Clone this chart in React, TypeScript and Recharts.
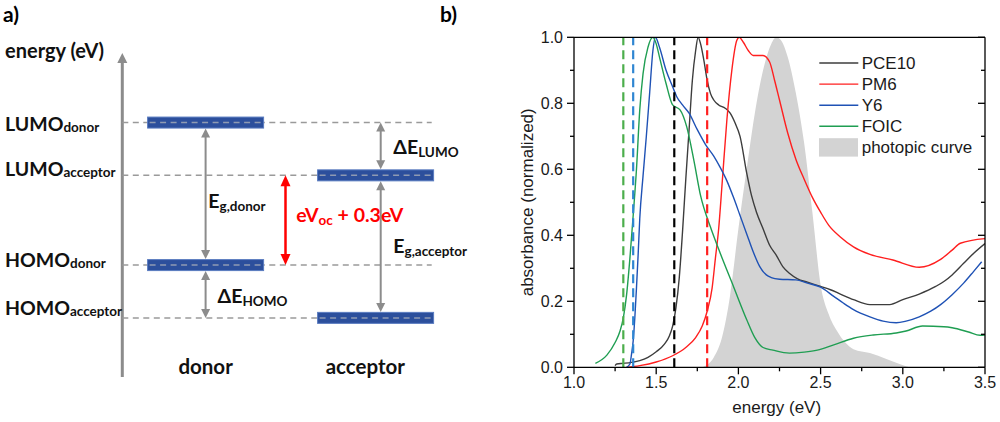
import {
  Area,
  ComposedChart,
  Legend,
  Line,
  ReferenceLine,
  Scatter,
  XAxis,
  YAxis,
} from 'recharts'

const FONT_A = 'Lato, "Open Sans", sans-serif'
const FONT_B = '"Liberation Sans", Arial, sans-serif'

// ---------- a) energy level diagram ----------
const LEVEL_NAMES = ['LUMO', 'LUMO', 'HOMO', 'HOMO']
const LEVEL_OWNERS = ['donor', 'acceptor', 'donor', 'acceptor']
const LEVEL_ENERGIES = [-3.59, -4.09, -4.94, -5.44] // eV, schematic
const COLUMNS = ['donor', 'acceptor'] // column x = 1, 2

// arrows: column position, start level, end level (indices into the level arrays)
const ARROW_X = [1, 1, 2.03, 2.03, 1.47]
const ARROW_FROM = [0, 2, 0, 1, 1]
const ARROW_TO = [2, 3, 1, 3, 2]
const ARROW_TEXT = ['E', 'ΔE', 'ΔE', 'E', 'eV']
const ARROW_SUB = ['g,donor', 'HOMO', 'LUMO', 'g,acceptor', 'oc']
const ARROW_TAIL = ['', '', '', '', ' + 0.3eV']

// ---------- b) absorbance spectra (energy eV, normalized absorbance) ----------
const PCE10: [number, number][] = [
  [1.25, 0.005], [1.26, 0.01], [1.3, 0.012], [1.35, 0.015], [1.4, 0.02], [1.45, 0.03],
  [1.5, 0.047], [1.55, 0.07], [1.58, 0.095], [1.6, 0.125], [1.62, 0.18], [1.64, 0.27],
  [1.66, 0.41], [1.68, 0.57], [1.7, 0.72], [1.72, 0.87], [1.74, 0.96], [1.755, 1.0],
  [1.77, 0.98], [1.79, 0.93], [1.81, 0.87], [1.83, 0.83], [1.85, 0.81], [1.88, 0.795],
  [1.92, 0.785], [1.95, 0.77], [1.98, 0.74], [2.01, 0.7], [2.05, 0.59], [2.08, 0.52],
  [2.11, 0.47], [2.15, 0.42], [2.19, 0.37], [2.23, 0.34], [2.27, 0.305], [2.31, 0.285],
  [2.36, 0.268], [2.42, 0.258], [2.5, 0.245], [2.56, 0.235], [2.62, 0.222], [2.7, 0.205],
  [2.8, 0.19], [2.92, 0.19], [3.0, 0.205], [3.1, 0.222], [3.2, 0.245], [3.25, 0.26],
  [3.3, 0.28], [3.37, 0.315], [3.43, 0.345], [3.5, 0.375],
]
const PM6: [number, number][] = [
  [1.32, 0.0], [1.4, 0.005], [1.5, 0.016], [1.6, 0.035], [1.68, 0.06], [1.74, 0.09],
  [1.78, 0.125], [1.81, 0.17], [1.84, 0.24], [1.86, 0.33], [1.88, 0.42], [1.9, 0.55],
  [1.93, 0.75], [1.96, 0.9], [1.99, 0.99], [2.005, 1.0], [2.03, 0.985], [2.06, 0.96],
  [2.09, 0.945], [2.15, 0.945], [2.19, 0.925], [2.22, 0.87], [2.25, 0.81], [2.3, 0.71],
  [2.35, 0.63], [2.4, 0.57], [2.45, 0.515], [2.5, 0.47], [2.55, 0.43], [2.62, 0.395],
  [2.7, 0.365], [2.8, 0.342], [2.94, 0.325], [3.1, 0.303], [3.23, 0.327], [3.3, 0.355],
  [3.35, 0.376], [3.5, 0.39],
]
const Y6: [number, number][] = [
  [1.32, 0.0], [1.34, 0.01], [1.35, 0.04], [1.36, 0.08], [1.37, 0.15], [1.38, 0.24],
  [1.39, 0.34], [1.4, 0.45], [1.42, 0.58], [1.44, 0.7], [1.46, 0.83], [1.48, 0.96],
  [1.495, 1.0], [1.52, 0.97], [1.56, 0.9], [1.6, 0.85], [1.625, 0.82], [1.66, 0.795],
  [1.7, 0.77], [1.75, 0.72], [1.8, 0.675], [1.85, 0.64], [1.89, 0.605], [1.93, 0.565],
  [1.97, 0.515], [2.01, 0.46], [2.05, 0.405], [2.09, 0.35], [2.13, 0.305], [2.17, 0.28],
  [2.2, 0.272], [2.25, 0.267], [2.35, 0.265], [2.42, 0.255], [2.5, 0.243], [2.58, 0.215],
  [2.64, 0.194], [2.7, 0.175], [2.8, 0.153], [2.88, 0.14], [2.96, 0.135], [3.02, 0.14],
  [3.1, 0.153], [3.17, 0.17], [3.23, 0.19], [3.3, 0.22], [3.37, 0.255], [3.43, 0.29],
  [3.48, 0.32],
]
const FOIC: [number, number][] = [
  [1.13, 0.012], [1.2, 0.037], [1.25, 0.075], [1.28, 0.11], [1.3, 0.15], [1.32, 0.22],
  [1.34, 0.33], [1.36, 0.46], [1.38, 0.6], [1.4, 0.78], [1.42, 0.89], [1.45, 0.97],
  [1.48, 1.0], [1.5, 0.98], [1.52, 0.94], [1.56, 0.86], [1.6, 0.795], [1.645, 0.78],
  [1.685, 0.73], [1.73, 0.625], [1.77, 0.52], [1.83, 0.425], [1.89, 0.345], [1.97, 0.245],
  [2.05, 0.145], [2.1, 0.09], [2.15, 0.06], [2.21, 0.052], [2.31, 0.043], [2.4, 0.046],
  [2.48, 0.052], [2.58, 0.068], [2.7, 0.088], [2.82, 0.098], [2.96, 0.104], [3.02, 0.11],
  [3.12, 0.125], [3.25, 0.123], [3.3, 0.12], [3.4, 0.107], [3.47, 0.097], [3.5, 0.098],
]
const PHOTOPIC: [number, number][] = [
  [1.78, 0.0], [1.85, 0.03], [1.9, 0.09], [1.95, 0.22], [2.0, 0.42], [2.05, 0.6],
  [2.1, 0.77], [2.15, 0.9], [2.2, 0.98], [2.23, 1.0], [2.26, 0.99], [2.3, 0.94],
  [2.35, 0.83], [2.4, 0.68], [2.45, 0.47], [2.5, 0.25], [2.55, 0.16], [2.6, 0.11],
  [2.65, 0.075], [2.7, 0.055], [2.8, 0.043], [2.9, 0.025], [2.98, 0.01], [3.04, 0.0],
]

// band-gap markers
const GAP_ENERGIES = [1.3, 1.36, 1.61, 1.81]
const GAP_COLORS = ['#4cae4c', '#2f86d2', '#000000', '#ff2020']

const SERIES_NAMES = ['PCE10', 'PM6', 'Y6', 'FOIC', 'photopic curve']
const SERIES_COLORS = ['#3d3d3d', '#ff1f1f', '#1f52b5', '#1f9e52', '#d3d3d3']

const X_TICKS = [1, 1.25, 1.5, 1.75, 2, 2.25, 2.5, 2.75, 3, 3.25, 3.5]
const Y_TICKS = [0, 0.1, 0.2, 0.3, 0.4, 0.5, 0.6, 0.7, 0.8, 0.9, 1.0]

const toRows = (pts: [number, number][]) => pts.map(([e, a]) => ({ e, a }))

// ---------- panel a pieces ----------
const GRAY = '#8c8c8c'
const RED = '#ff0000'
const BAR_HALF_H = 5.5
const LEVEL_LABEL_DY = [8.1, 0.3, 1.6, -2.9]
const ARROW_LABEL_DX = [2.7, 12, 12.6, 12.6, 10.7]
const ARROW_LABEL_DY = [14, 11.8, 5.3, 6.6, 1.4]
const COLUMN_LABEL_DX = [0, -10.3]

const columnOf = (level: number) => COLUMNS.indexOf(LEVEL_OWNERS[level]) + 1

const barPoints = LEVEL_ENERGIES.map((energy, i) => ({ column: columnOf(i), energy }))

function LevelBar({ cx, cy }: any) {
  return (
    <g>
      <rect x={cx - 58} y={cy - BAR_HALF_H} width={116} height={BAR_HALF_H * 2} fill="#2c4f9c" stroke="#5a7cc0" strokeWidth={1} />
      <line x1={cx - 56} x2={cx + 57} y1={cy} y2={cy} stroke="#8e9ab2" strokeWidth={1.5} strokeDasharray="6 4.5" />
    </g>
  )
}

function LevelTick({ y, payload }: any) {
  const i = LEVEL_ENERGIES.indexOf(payload.value)
  if (i < 0) return null
  return (
    <text x={5} y={y + LEVEL_LABEL_DY[i]} fontFamily={FONT_A} fontWeight={700} fontSize={19.5} fill="#111">
      {LEVEL_NAMES[i]}
      <tspan dy={1.5} fontSize={13.5}>{LEVEL_OWNERS[i]}</tspan>
    </text>
  )
}

function ColumnTick({ x, y, payload }: any) {
  const i = Math.round(payload.value) - 1
  return (
    <text x={x + COLUMN_LABEL_DX[i]} y={y - 2.7} textAnchor="middle" fontFamily={FONT_A} fontWeight={700} fontSize={20.5} fill="#111">
      {COLUMNS[i]}
    </text>
  )
}

function arrowHead(x: number, tip: number, dir: 1 | -1, w: number, l: number, color: string) {
  return <polygon points={`${x},${tip} ${x - w / 2},${tip + dir * l} ${x + w / 2},${tip + dir * l}`} fill={color} />
}

function makeArrow(i: number) {
  const red = ARROW_TAIL[i] !== ''
  const color = red ? RED : GRAY
  const headW = red ? 10 : 9
  const headL = red ? 11 : 9
  const hasBar = (level: number) => Math.abs(ARROW_X[i] - columnOf(level)) < 0.1
  return (p: any) => {
    const x = p.x1
    const top = Math.min(p.y1, p.y2) + (hasBar(ARROW_FROM[i]) ? BAR_HALF_H + 0.5 : 0)
    const bottom = Math.max(p.y1, p.y2) - (hasBar(ARROW_TO[i]) ? BAR_HALF_H + 0.5 : 0)
    const mid = (Math.min(p.y1, p.y2) + Math.max(p.y1, p.y2)) / 2
    return (
      <g>
        <line x1={x} x2={x} y1={top + headL - 1} y2={bottom - headL + 1} stroke={color} strokeWidth={red ? 2.5 : 2} />
        {arrowHead(x, top, 1, headW, headL, color)}
        {arrowHead(x, bottom, -1, headW, headL, color)}
        <text x={x + ARROW_LABEL_DX[i]} y={mid + ARROW_LABEL_DY[i]} fontFamily={FONT_A} fontWeight={700} fontSize={19.5} fill={red ? RED : '#111'}>
          {ARROW_TEXT[i]}
          <tspan dy={3} fontSize={13.5}>{ARROW_SUB[i]}</tspan>
          {red ? <tspan dy={-3}>{ARROW_TAIL[i]}</tspan> : null}
        </text>
      </g>
    )
  }
}

function EnergyAxisArrow(p: any) {
  const top = Math.min(p.y1, p.y2) - 2
  const bottom = Math.max(p.y1, p.y2)
  return (
    <g>
      <line x1={p.x1} x2={p.x1} y1={bottom} y2={top + 9} stroke={GRAY} strokeWidth={3} />
      {arrowHead(p.x1, top, 1, 10, 10, GRAY)}
    </g>
  )
}

function EnergyDiagram() {
  return (
    <ComposedChart width={470} height={422} margin={{ top: 55, right: 9.4, bottom: 15, left: 0 }}>
      <XAxis
        type="number"
        dataKey="column"
        domain={[0.5, 2.5]}
        allowDataOverflow
        ticks={[1, 2]}
        interval={0}
        height={30}
        axisLine={false}
        tickLine={false}
        tickSize={0}
        tickMargin={0}
        tick={ColumnTick}
      />
      <YAxis
        type="number"
        dataKey="energy"
        domain={[-6.0, -2.95]}
        allowDataOverflow
        ticks={LEVEL_ENERGIES}
        interval={0}
        width={120.6}
        axisLine={false}
        tickLine={false}
        tickSize={0}
        tickMargin={0}
        tick={LevelTick}
        label={() => (
          <text x={5} y={57.5} fontFamily={FONT_A} fontWeight={700} fontSize={20} fill="#111">
            energy (eV)
          </text>
        )}
      />
      <ReferenceLine x={0.51} shape={EnergyAxisArrow} />
      {LEVEL_ENERGIES.map((e, i) => (
        <ReferenceLine
          key={`lvl${i}`}
          segment={[{ x: 0.51, y: e }, { x: 2.33, y: e }]}
          stroke="#9a9a9a"
          strokeWidth={1.5}
          strokeDasharray="6 4.5"
        />
      ))}
      <Scatter data={barPoints} shape={LevelBar} isAnimationActive={false} />
      {ARROW_X.map((x, i) => (
        <ReferenceLine
          key={`arr${i}`}
          segment={[
            { x, y: LEVEL_ENERGIES[ARROW_FROM[i]] },
            { x, y: LEVEL_ENERGIES[ARROW_TO[i]] },
          ]}
          shape={makeArrow(i)}
        />
      ))}
    </ComposedChart>
  )
}

// ---------- panel b pieces ----------
const isMajorX = (v: number) => Math.abs(v * 2 - Math.round(v * 2)) < 1e-6
const isMajorY = (v: number) => Math.abs(v * 5 - Math.round(v * 5)) < 1e-6
const AXIS_W = 1.3

function BottomTick({ x, y, payload }: any) {
  const major = isMajorX(payload.value)
  return (
    <g>
      <line x1={x} x2={x} y1={y} y2={y + (major ? 7 : 4)} stroke="#000" strokeWidth={AXIS_W} />
      {major ? (
        <text x={x} y={y + 20.7} textAnchor="middle" fontFamily={FONT_B} fontSize={16} fill="#1a1a1a">
          {payload.value.toFixed(1)}
        </text>
      ) : null}
    </g>
  )
}

function TopTick({ x, y, payload }: any) {
  const len = isMajorX(payload.value) ? 7 : 4
  return <line x1={x} x2={x} y1={y} y2={y + len} stroke="#000" strokeWidth={AXIS_W} />
}

function LeftTick({ x, y, payload }: any) {
  const major = isMajorY(payload.value)
  return (
    <g>
      <line x1={x - (major ? 7 : 4)} x2={x} y1={y} y2={y} stroke="#000" strokeWidth={AXIS_W} />
      {major ? (
        <text x={x - 11} y={y + 5.7} textAnchor="end" fontFamily={FONT_B} fontSize={16} fill="#1a1a1a">
          {payload.value.toFixed(1)}
        </text>
      ) : null}
    </g>
  )
}

function RightTick({ x, y, payload }: any) {
  const len = isMajorY(payload.value) ? 7 : 4
  return <line x1={x - len} x2={x} y1={y} y2={y} stroke="#000" strokeWidth={AXIS_W} />
}

function SpectraLegend({ payload }: any) {
  const items = [...(payload ?? [])].sort(
    (a: any, b: any) => SERIES_NAMES.indexOf(a.value) - SERIES_NAMES.indexOf(b.value),
  )
  return (
    <svg width={170} height={110} style={{ display: 'block' }}>
      {items.map((item: any, i: number) => {
        const cy = 11 + i * 21.1
        const color = SERIES_COLORS[SERIES_NAMES.indexOf(item.value)]
        return (
          <g key={item.value}>
            {item.type === 'rect' ? (
              <rect x={0} y={cy - 9.2} width={39} height={18.4} fill={color} />
            ) : (
              <line x1={0.3} x2={39.3} y1={cy} y2={cy} stroke={color} strokeWidth={1.4} />
            )}
            <text x={42.7} y={cy + 6} fontFamily={FONT_B} fontSize={17} fill="#1a1a1a">
              {item.value}
            </text>
          </g>
        )
      })}
    </svg>
  )
}

const CURVES = [PCE10, PM6, Y6, FOIC]

function AbsorbanceChart() {
  return (
    <ComposedChart width={530} height={422} margin={{ top: 37.3, right: 15, bottom: 0, left: 0 }}>
      <XAxis
        type="number"
        dataKey="e"
        domain={[1, 3.5]}
        allowDataOverflow
        ticks={X_TICKS}
        interval={0}
        height={54.7}
        stroke="#000"
        strokeWidth={AXIS_W}
        tickLine={false}
        tickSize={0}
        tickMargin={0}
        tick={BottomTick}
        label={({ viewBox }: any) => (
          <text x={viewBox.x + viewBox.width / 2 - 2.8} y={viewBox.y + 45.5} textAnchor="middle" fontFamily={FONT_B} fontSize={17} fill="#1a1a1a">
            energy (eV)
          </text>
        )}
      />
      <XAxis
        xAxisId="top"
        orientation="top"
        mirror
        type="number"
        domain={[1, 3.5]}
        allowDataOverflow
        ticks={X_TICKS}
        interval={0}
        height={1}
        stroke="#000"
        strokeWidth={AXIS_W}
        tickLine={false}
        tickSize={0}
        tickMargin={0}
        tick={TopTick}
      />
      <YAxis
        type="number"
        domain={[0, 1]}
        allowDataOverflow
        ticks={Y_TICKS}
        interval={0}
        width={104}
        stroke="#000"
        strokeWidth={AXIS_W}
        tickLine={false}
        tickSize={0}
        tickMargin={0}
        tick={LeftTick}
        label={({ viewBox }: any) => {
          const cx = viewBox.x + 57.5
          const cy = viewBox.y + viewBox.height / 2
          return (
            <text x={cx} y={cy} transform={`rotate(-90 ${cx} ${cy})`} textAnchor="middle" dominantBaseline="central" fontFamily={FONT_B} fontSize={17} fill="#1a1a1a">
              absorbance (normalized)
            </text>
          )
        }}
      />
      <YAxis
        yAxisId="right"
        orientation="right"
        mirror
        type="number"
        domain={[0, 1]}
        allowDataOverflow
        ticks={Y_TICKS}
        interval={0}
        width={1}
        stroke="#000"
        strokeWidth={AXIS_W}
        tickLine={false}
        tickSize={0}
        tickMargin={0}
        tick={RightTick}
      />
      <Area
        data={toRows(PHOTOPIC)}
        dataKey="a"
        name={SERIES_NAMES[4]}
        type="monotone"
        fill={SERIES_COLORS[4]}
        fillOpacity={1}
        stroke="none"
        legendType="rect"
        isAnimationActive={false}
      />
      {CURVES.map((pts, i) => (
        <Line
          key={SERIES_NAMES[i]}
          data={toRows(pts)}
          dataKey="a"
          name={SERIES_NAMES[i]}
          type="monotone"
          stroke={SERIES_COLORS[i]}
          strokeWidth={1.4}
          dot={false}
          isAnimationActive={false}
        />
      ))}
      {GAP_ENERGIES.map((e, i) => (
        <ReferenceLine key={`gap${i}`} x={e} stroke={GAP_COLORS[i]} strokeWidth={2.2} strokeDasharray="9 5" />
      ))}
      <Legend
        layout="vertical"
        align="center"
        verticalAlign="middle"
        content={SpectraLegend}
        wrapperStyle={{ left: 349, top: 52.3, width: 170, height: 110 }}
      />
    </ComposedChart>
  )
}

const panelLabel = { position: 'absolute' as const, fontFamily: FONT_A, fontWeight: 700, fontSize: 21, lineHeight: '26px' }

export default function App() {
  return (
    <div style={{ position: 'fixed', left: 0, top: 0, width: 1000, height: 422, background: '#fff', overflow: 'hidden' }}>
      <div style={{ position: 'absolute', left: 0, top: 0 }}>
        <EnergyDiagram />
      </div>
      <div style={{ position: 'absolute', left: 470, top: 0 }}>
        <AbsorbanceChart />
      </div>
      <div style={{ ...panelLabel, left: 3, top: 1 }}>a)</div>
      <div style={{ ...panelLabel, left: 440, top: 1 }}>b)</div>
    </div>
  )
}
